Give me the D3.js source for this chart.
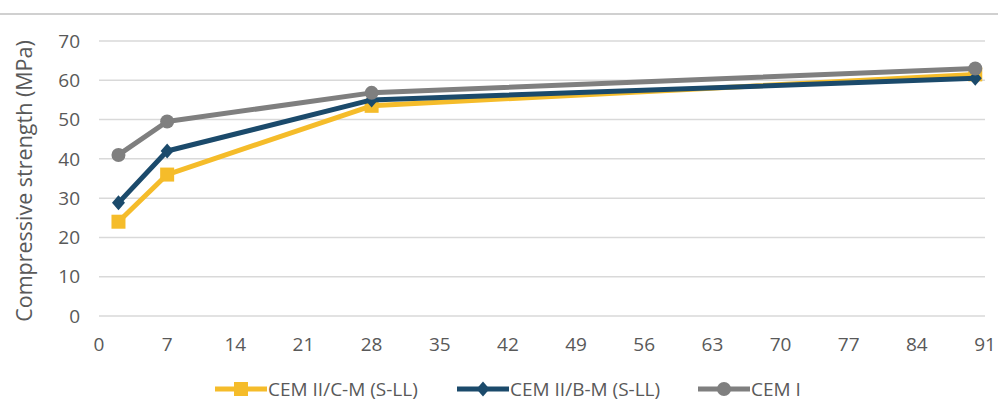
<!DOCTYPE html>
<html>
<head>
<meta charset="utf-8">
<script src="https://cdn.jsdelivr.net/npm/d3@7"></script>
<style>
  body { margin: 0; background: #fff; }
  svg { display: block; font-family: "Open Sans", sans-serif; }
</style>
</head>
<body>
<div id="chart"></div>
<script>
// chart data
const days = [2, 7, 28, 90];
const cemIIC = [24, 36, 53.5, 61.5];
const cemIIB = [28.8, 42, 55, 60.5];
const cemI = [41, 49.5, 56.8, 63];
const xTicks = [0, 7, 14, 21, 28, 35, 42, 49, 56, 63, 70, 77, 84, 91];
const yTicks = [0, 10, 20, 30, 40, 50, 60, 70];

const series = [
    { name: "CEM II/C-M (S-LL)", values: cemIIC, color: "#f5bc2a", marker: "square" },
    { name: "CEM II/B-M (S-LL)", values: cemIIB, color: "#1b4a6b", marker: "diamond" },
    { name: "CEM I", values: cemI, color: "#7f7f7f", marker: "circle" }
];

const width = 998, height = 403;
const svg = d3.select("#chart").append("svg")
    .attr("width", width)
    .attr("height", height);

// thin rule along the top
svg.append("line")
    .attr("x1", 0).attr("x2", width)
    .attr("y1", 14).attr("y2", 14)
    .style("stroke", "#d0d0d0")
    .style("stroke-width", 2);

const x = d3.scaleLinear().domain([0, 91]).range([99, 985]);
const y = d3.scaleLinear().domain([0, 70]).range([316, 41]);

// gridlines
svg.append("g")
    .selectAll("line")
    .data(yTicks)
    .enter()
    .append("line")
    .attr("x1", x(0)).attr("x2", x(91))
    .attr("y1", d => y(d)).attr("y2", d => y(d))
    .style("stroke", "#d9d9d9")
    .style("stroke-width", 1.5);

// y tick labels
svg.append("g")
    .selectAll("text")
    .data(yTicks)
    .enter()
    .append("text")
    .attr("x", 80)
    .attr("y", d => y(d))
    .attr("dy", "0.35em")
    .attr("text-anchor", "end")
    .style("font-size", "19px")
    .style("fill", "#595959")
    .text(d => d);

// x tick labels
svg.append("g")
    .selectAll("text")
    .data(xTicks)
    .enter()
    .append("text")
    .attr("x", d => x(d))
    .attr("y", 351)
    .attr("text-anchor", "middle")
    .style("font-size", "19px")
    .style("fill", "#595959")
    .text(d => d);

// axis title
svg.append("text")
    .attr("transform", "translate(32,181) rotate(-90)")
    .attr("text-anchor", "middle")
    .style("font-size", "21.5px")
    .style("fill", "#595959")
    .text("Compressive strength (MPa)");

function drawMarker(g, type, color) {
    if (type === "square") {
        g.append("rect").attr("x", -7).attr("y", -7).attr("width", 14).attr("height", 14)
            .style("fill", color);
    } else if (type === "diamond") {
        g.append("path").attr("d", "M0,-7.5L6.5,0L0,7.5L-6.5,0Z").style("fill", color);
    } else {
        g.append("circle").attr("r", 7).style("fill", color);
    }
}

const line = d3.line()
    .x((d, i) => x(days[i]))
    .y(d => y(d));

series.forEach(s => {
    svg.append("path")
        .datum(s.values)
        .attr("d", line)
        .style("fill", "none")
        .style("stroke", s.color)
        .style("stroke-width", 5)
        .style("stroke-linejoin", "round");

    s.values.forEach((v, i) => {
        const g = svg.append("g")
            .attr("transform", "translate(" + x(days[i]) + "," + y(v) + ")");
        drawMarker(g, s.marker, s.color);
    });
});

// legend
const legendX = [215, 457, 698];
series.forEach((s, i) => {
    const lg = svg.append("g").attr("transform", "translate(" + legendX[i] + ",389)");
    lg.append("line")
        .attr("x1", 0).attr("x2", 52)
        .style("stroke", s.color)
        .style("stroke-width", 5);
    const m = lg.append("g").attr("transform", "translate(26,0)");
    drawMarker(m, s.marker, s.color);
    lg.append("text")
        .attr("x", 53)
        .attr("dy", "0.35em")
        .style("font-size", "19px")
        .style("fill", "#595959")
        .text(s.name);
});
</script>
</body>
</html>
